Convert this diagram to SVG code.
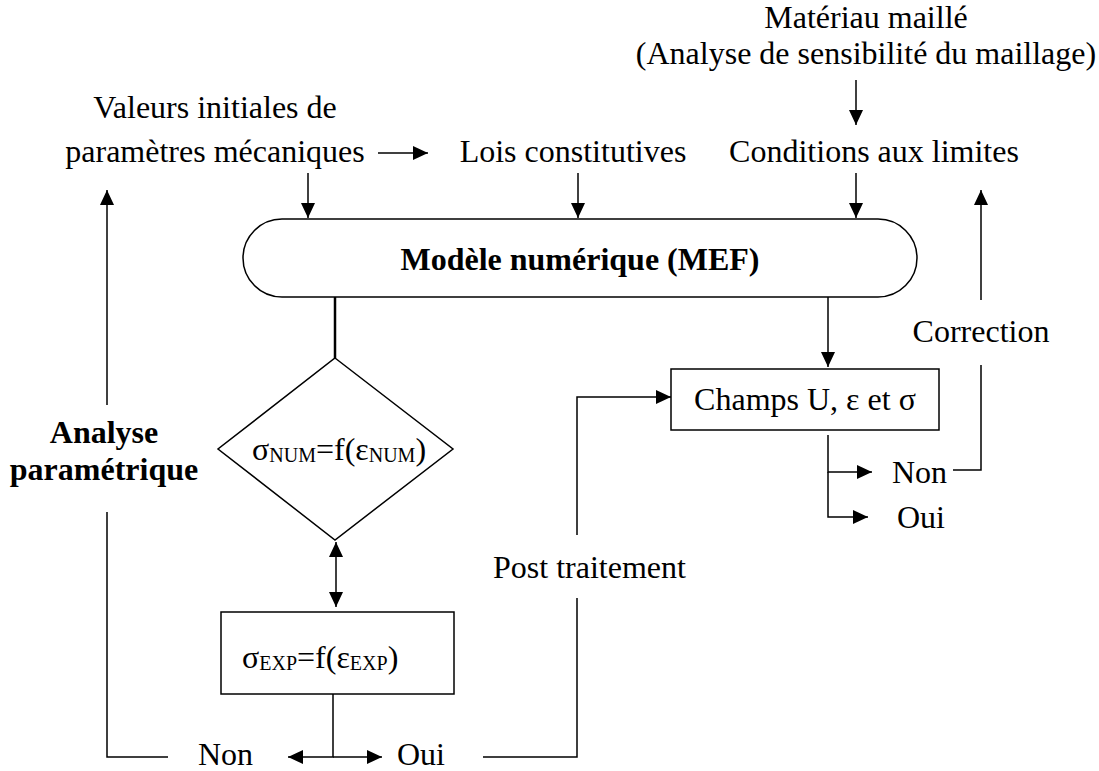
<svg xmlns="http://www.w3.org/2000/svg" width="1099" height="771" viewBox="0 0 1099 771" font-family="'Liberation Serif', 'Times New Roman', Times, 'DejaVu Serif', serif">
<style>
text{font-family:'Liberation Serif','Times New Roman',Times,'DejaVu Serif',serif;font-size:32px;fill:#000}
.b{font-weight:bold}
.sub{font-size:20px}
.ln{fill:none;stroke:#000;stroke-width:1.5}
.ar{fill:none;stroke:#000;stroke-width:1.5;marker-end:url(#ah)}
.shape{fill:#fff;stroke:#000;stroke-width:1.5}
</style>
<defs>
<marker id="ah" markerUnits="userSpaceOnUse" markerWidth="16" markerHeight="14" refX="15" refY="7" orient="auto-start-reverse">
<path d="M0,0 L15,7 L0,14 z" fill="#000"/>
</marker>
</defs>
<rect width="1099" height="771" fill="#fff"/>
<g id="connectors">
<path class="ar" d="M856,80 V125"/>
<path class="ar" d="M378,153 H428"/>
<path class="ar" d="M308,173 V218"/>
<path class="ar" d="M578,173 V218"/>
<path class="ar" d="M856,173 V218"/>
<path d="M335,297 V358" fill="none" stroke="#000" stroke-width="2.5"/>
<path class="ar" d="M336,542 V607" marker-start="url(#ah)"/>
<path class="ar" d="M333,694 V757 H288"/>
<path class="ar" d="M333,757 H382"/>
<path class="ln" d="M168,757 H107 V512"/>
<path class="ar" d="M107,405 V190"/>
<path class="ln" d="M483,757 H577 V598"/>
<path class="ar" d="M577,535 V397 H671"/>
<path class="ar" d="M828,297 V367"/>
<path class="ar" d="M828,435 V472 H872"/>
<path class="ar" d="M828,472 V517 H868"/>
<path class="ln" d="M953,470 H981 V365"/>
<path class="ar" d="M981,300 V190"/>
</g>
<g id="n-materiau">
<text x="866" y="28" text-anchor="middle" font-family="Liberation Serif">Matériau maillé</text>
<text x="866" y="64" text-anchor="middle" font-family="Liberation Serif">(Analyse de sensibilité du maillage)</text>
</g>
<g id="n-valeurs">
<text x="215" y="118" text-anchor="middle" font-family="Liberation Serif">Valeurs initiales de</text>
<text x="215" y="162" text-anchor="middle" font-family="Liberation Serif">paramètres mécaniques</text>
</g>
<g id="n-lois"><text x="573" y="162" text-anchor="middle" font-family="Liberation Serif">Lois constitutives</text></g>
<g id="n-conditions"><text x="874" y="162" text-anchor="middle" font-family="Liberation Serif">Conditions aux limites</text></g>
<g id="n-modele">
<rect class="shape" x="243" y="219" width="674" height="78" rx="39" ry="39"/>
<text class="b" x="580" y="270" text-anchor="middle" font-family="Liberation Serif">Modèle numérique (MEF)</text>
</g>
<g id="n-num">
<path class="shape" d="M335,358 L453,449 L335,540 L218,449 Z"/>
<text x="252" y="460" font-family="Liberation Serif">σ<tspan class="sub" dy="2">NUM</tspan><tspan dy="-2">=f(ε</tspan><tspan class="sub" dy="2">NUM</tspan><tspan dy="-2">)</tspan></text>
</g>
<g id="n-exp">
<rect class="shape" x="221" y="612" width="233" height="82"/>
<text x="242" y="668" font-family="Liberation Serif">σ<tspan class="sub" dy="2">EXP</tspan><tspan dy="-2">=f(ε</tspan><tspan class="sub" dy="2">EXP</tspan><tspan dy="-2">)</tspan></text>
</g>
<g id="n-analyse">
<text class="b" x="104" y="443" text-anchor="middle" font-family="Liberation Serif">Analyse</text>
<text class="b" x="104" y="480" text-anchor="middle" font-family="Liberation Serif">paramétrique</text>
</g>
<g id="n-non-left"><text x="198" y="765" font-family="Liberation Serif">Non</text></g>
<g id="n-oui-left"><text x="397" y="765" font-family="Liberation Serif">Oui</text></g>
<g id="n-post"><text x="493" y="578" font-family="Liberation Serif">Post traitement</text></g>
<g id="n-champs">
<rect class="shape" x="671" y="369" width="268" height="61"/>
<text x="805" y="410" text-anchor="middle" font-family="Liberation Serif">Champs U, ε et σ</text>
</g>
<g id="n-non-right"><text x="892" y="483" font-family="Liberation Serif">Non</text></g>
<g id="n-oui-right"><text x="897" y="528" font-family="Liberation Serif">Oui</text></g>
<g id="n-correction"><text x="981" y="342" text-anchor="middle" font-family="Liberation Serif">Correction</text></g>
</svg>
